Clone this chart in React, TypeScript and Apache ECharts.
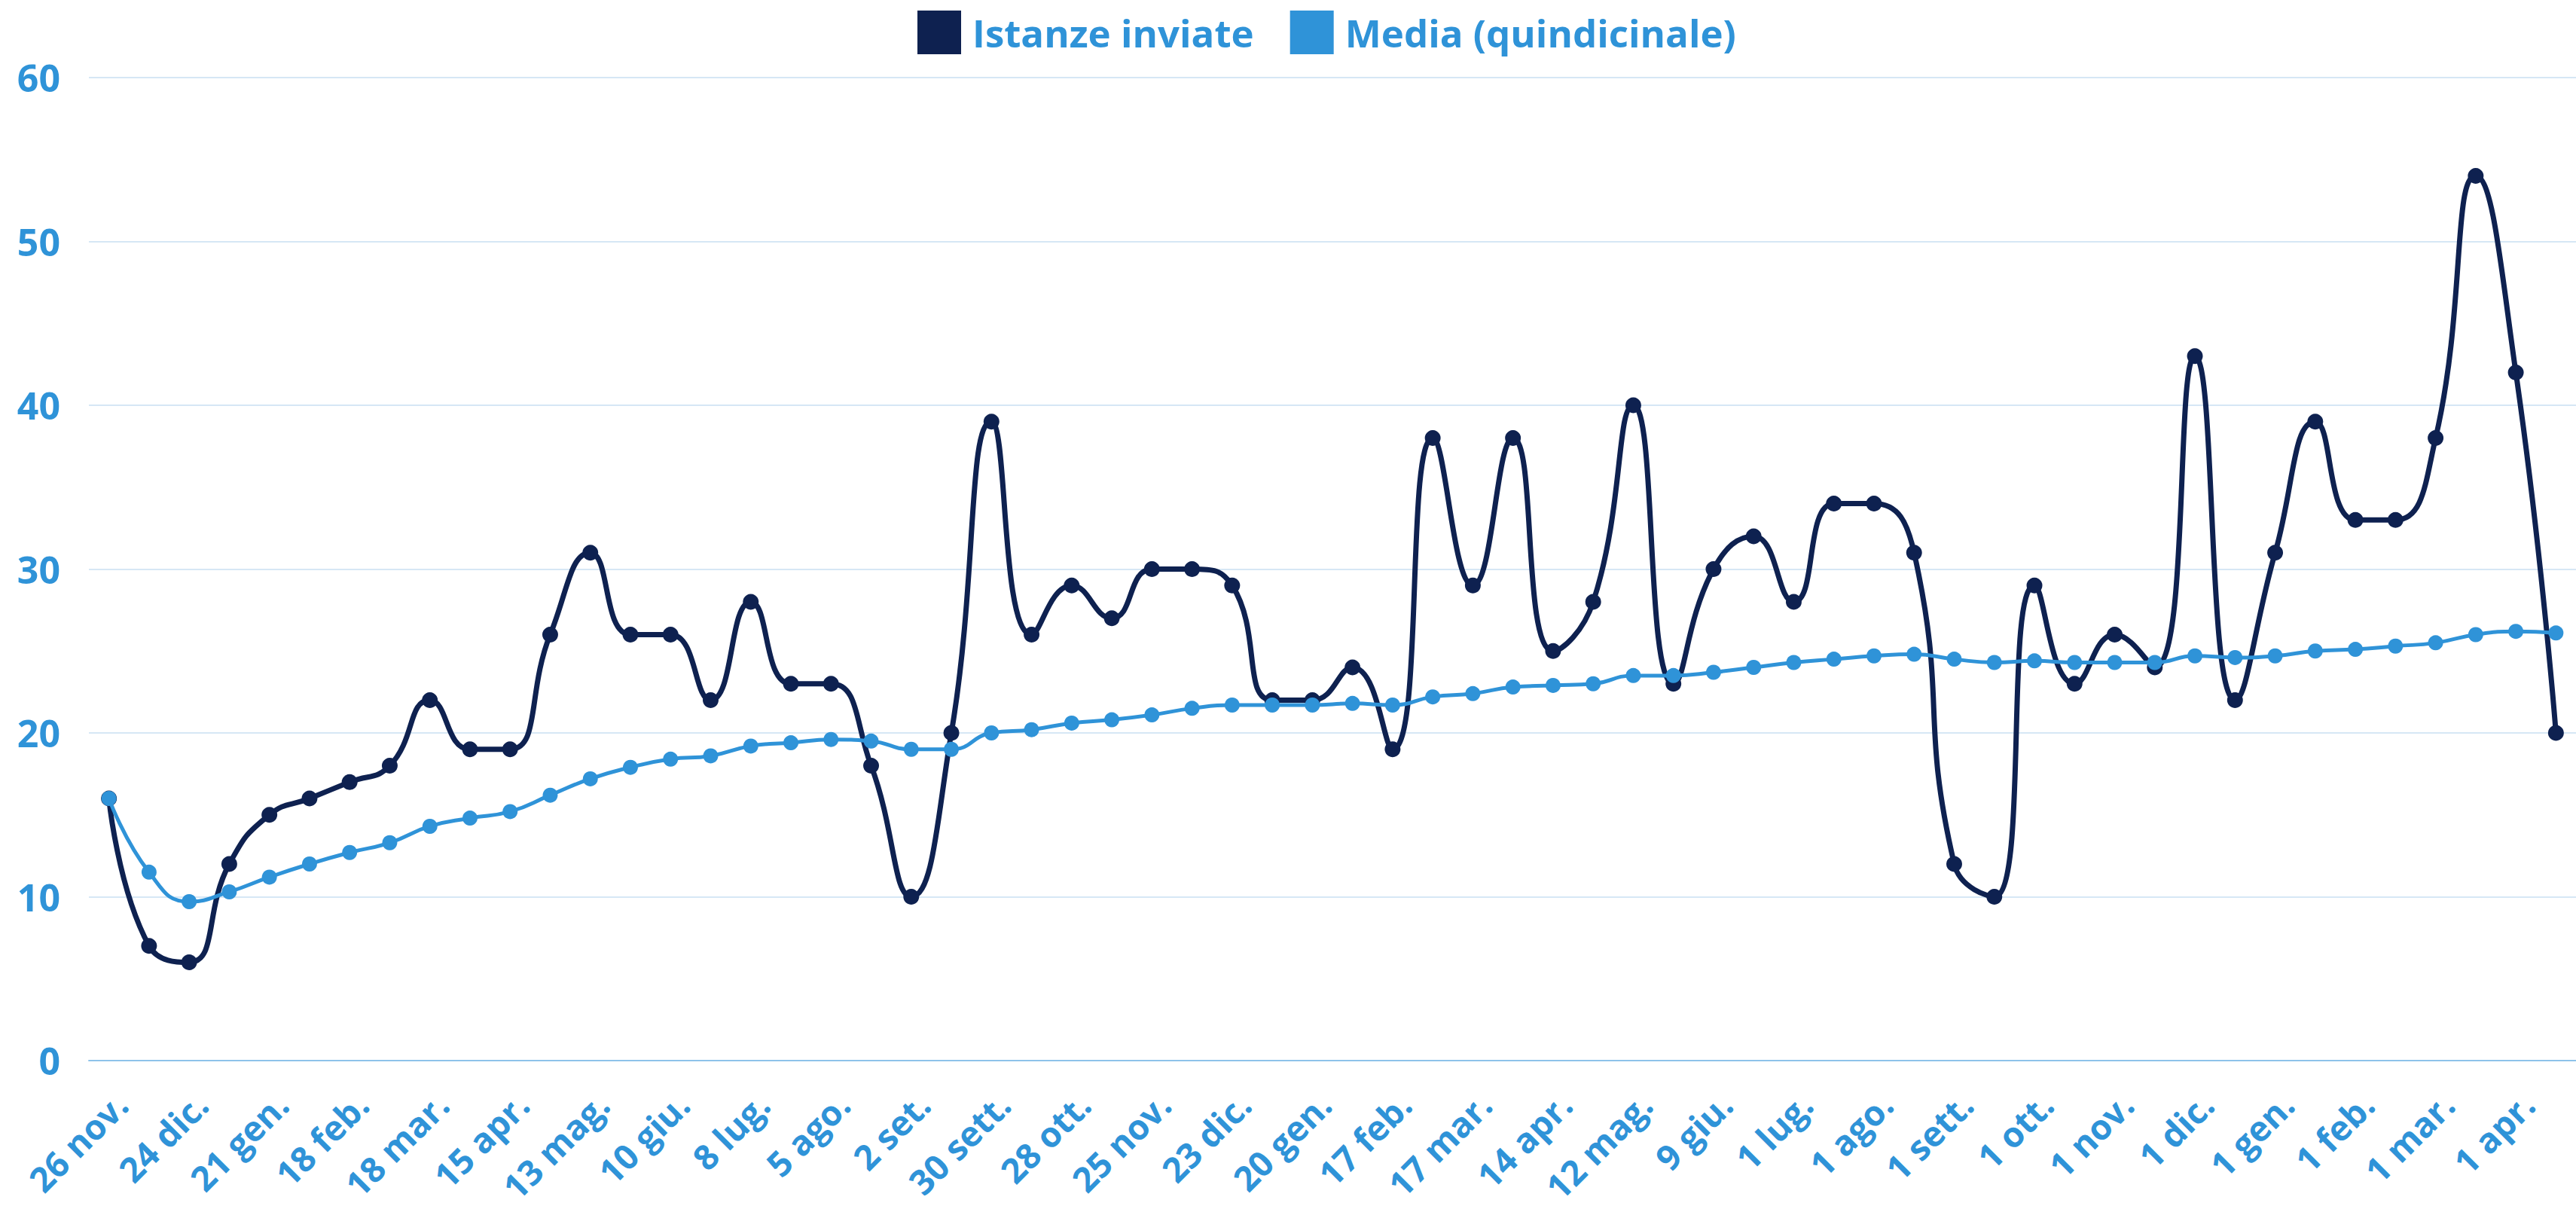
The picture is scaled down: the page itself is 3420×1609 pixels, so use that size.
import React, { useEffect, useRef } from "react";
import * as echarts from "echarts";

const categories = [
  "26 nov.", "10 dic.", "24 dic.", "7 gen.", "21 gen.", "4 feb.", "18 feb.", "4 mar.", "18 mar.", "1 apr.",
  "15 apr.", "29 apr.", "13 mag.", "27 mag.", "10 giu.", "24 giu.", "8 lug.", "22 lug.", "5 ago.", "19 ago.",
  "2 set.", "16 sett.", "30 sett.", "14 ott.", "28 ott.", "11 nov.", "25 nov.", "9 dic.", "23 dic.", "6 gen.",
  "20 gen.", "3 feb.", "17 feb.", "3 mar.", "17 mar.", "31 mar.", "14 apr.", "28 apr.", "12 mag.", "26 mag.",
  "9 giu.", "16 giu.", "1 lug.", "15 lug.", "1 ago.", "15 ago.", "1 sett.", "15 sett.", "1 ott.", "15 ott.",
  "1 nov.", "15 nov.", "1 dic.", "15 dic.", "1 gen.", "15 gen.", "1 feb.", "15 feb.", "1 mar.", "15 mar.",
  "1 apr.", "15 apr."
];

const istanzeInviate = [
  16, 7, 6, 12, 15, 16, 17, 18, 22, 19,
  19, 26, 31, 26, 26, 22, 28, 23, 23, 18,
  10, 20, 39, 26, 29, 27, 30, 30, 29, 22,
  22, 24, 19, 38, 29, 38, 25, 28, 40, 23,
  30, 32, 28, 34, 34, 31, 12, 10, 29, 23,
  26, 24, 43, 22, 31, 39, 33, 33, 38, 54,
  42, 20
];

const mediaQuindicinale = [
  16, 11.5, 9.7, 10.3, 11.2, 12, 12.7, 13.3, 14.3, 14.8,
  15.2, 16.2, 17.2, 17.9, 18.4, 18.6, 19.2, 19.4, 19.6, 19.5,
  19.0, 19.0, 20.0, 20.2, 20.6, 20.8, 21.1, 21.5, 21.7, 21.7,
  21.7, 21.8, 21.7, 22.2, 22.4, 22.8, 22.9, 23.0, 23.5, 23.5,
  23.7, 24.0, 24.3, 24.5, 24.7, 24.8, 24.5, 24.3, 24.4, 24.3,
  24.3, 24.3, 24.7, 24.6, 24.7, 25.0, 25.1, 25.3, 25.5, 26.0,
  26.2, 26.1
];

const seriesNames = ["Istanze inviate", "Media (quindicinale)"];
const yMin = 0;
const yMax = 60;
const yInterval = 10;

const DARK = "#0e2150";
const BLUE = "#2f93d8";
const FONT = "Open Sans";

export default function App() {
  const ref = useRef<HTMLDivElement>(null);
  useEffect(() => {
    document.body.style.margin = "0";
    const chart = echarts.init(ref.current as HTMLDivElement, null, { renderer: "svg" });
    chart.setOption({
      animation: false,
      backgroundColor: "#ffffff",
      textStyle: { fontFamily: FONT },
      legend: {
        left: 1213,
        top: 9,
        icon: "rect",
        itemWidth: 58,
        itemHeight: 58,
        itemGap: 48,
        data: seriesNames,
        textStyle: {
          color: BLUE,
          fontSize: 51,
          fontWeight: "bold",
          fontFamily: FONT,
          padding: [0, 0, 0, 10],
        },
      },
      grid: { left: 118, right: 0, top: 103, bottom: 201, containLabel: false },
      xAxis: {
        type: "category",
        data: categories,
        boundaryGap: true,
        axisLine: { lineStyle: { color: "#8ec3ea", width: 2 } },
        axisTick: { show: false },
        splitLine: { show: false },
        axisLabel: {
          interval: 1,
          rotate: 45,
          margin: 34,
          verticalAlign: "top",
          color: BLUE,
          fontSize: 46,
          fontWeight: "bold",
          fontFamily: FONT,
        },
      },
      yAxis: {
        type: "value",
        min: yMin,
        max: yMax,
        interval: yInterval,
        axisLine: { show: false },
        axisTick: { show: false },
        splitLine: { lineStyle: { color: "#d6e7f5", width: 2 } },
        axisLabel: {
          margin: 38,
          color: BLUE,
          fontSize: 50,
          fontWeight: "bold",
          fontFamily: FONT,
        },
      },
      series: [
        {
          name: seriesNames[0],
          type: "line",
          data: istanzeInviate,
          smooth: 0.5,
          symbol: "circle",
          symbolSize: 21,
          color: DARK,
          lineStyle: { color: DARK, width: 7 },
          itemStyle: { color: DARK },
          z: 2,
        },
        {
          name: seriesNames[1],
          type: "line",
          data: mediaQuindicinale,
          smooth: 0.5,
          symbol: "circle",
          symbolSize: 20,
          color: BLUE,
          lineStyle: { color: BLUE, width: 5 },
          itemStyle: { color: BLUE },
          z: 3,
        },
      ],
    });
    return () => chart.dispose();
  }, []);
  return <div ref={ref} style={{ width: 3420, height: 1609 }} />;
}
